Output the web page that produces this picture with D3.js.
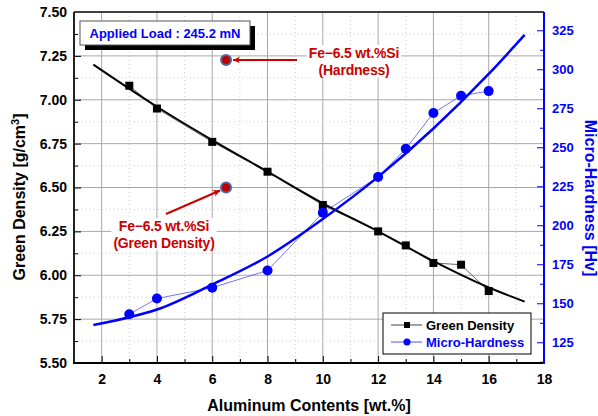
<!DOCTYPE html>
<html>
<head>
<meta charset="utf-8">
<script src="https://d3js.org/d3.v7.min.js"></script>
<style>
  body { margin: 0; background: #fff; }
  text { font-family: "Liberation Sans", Arial, sans-serif; font-weight: bold; }
</style>
</head>
<body>
<svg id="chart" width="598" height="416"></svg>
<script>
// measured data
var alContent = [3, 4, 6, 8, 10, 12, 13, 14, 15, 16];
var greenDensity = [7.08, 6.95, 6.76, 6.59, 6.40, 6.25, 6.17, 6.07, 6.06, 5.91];
var microHardness = [143, 153, 160, 171, 208, 231, 249, 272, 283, 286];

// fitted curves
var densityFitX = [1.7, 4, 6, 8, 10, 12, 14, 16, 17.3];
var densityFitY = [7.20, 6.96, 6.77, 6.59, 6.41, 6.25, 6.08, 5.93, 5.85];
var hardnessFitX = [1.7, 3, 4, 6, 8, 10, 12, 14, 16, 17.3];
var hardnessFitY = [136, 141, 146, 162, 180, 204, 231, 262, 297, 322];

// Fe-6.5 wt.%Si reference
var refAl = 6.5;
var refDensity = 6.50;
var refHardness = 306;

var xTicks = [2, 4, 6, 8, 10, 12, 14, 16, 18];
var yLeftTicks = [5.50, 5.75, 6.00, 6.25, 6.50, 6.75, 7.00, 7.25, 7.50];
var yRightTicks = [125, 150, 175, 200, 225, 250, 275, 300, 325];

var svg = d3.select('#chart');
var pLeft = 74, pRight = 544, pTop = 12, pBottom = 363;
var blue = '#0000ff', red = '#cc0000';

var x = d3.scaleLinear().domain([1, 18]).range([pLeft, pRight]);
var yL = d3.scaleLinear().domain([5.5, 7.5]).range([pBottom, pTop]);
var yR = d3.scaleLinear().domain([111.7, 336.7]).range([pBottom, pTop]);

// grid
var grid = svg.append('g');
d3.range(2, 18, 1).forEach(function (v) {
  var major = v % 2 === 0;
  grid.append('line')
    .attr('x1', x(v)).attr('x2', x(v)).attr('y1', pTop).attr('y2', pBottom)
    .attr('stroke', major ? '#a8a8a8' : '#cfcfcf')
    .attr('stroke-dasharray', major ? null : '1,3');
});
d3.range(5.625, 7.5, 0.125).forEach(function (v) {
  var major = Math.abs(v * 4 - Math.round(v * 4)) < 1e-6;
  grid.append('line')
    .attr('x1', pLeft).attr('x2', pRight).attr('y1', yL(v)).attr('y2', yL(v))
    .attr('stroke', major ? '#a8a8a8' : '#cfcfcf')
    .attr('stroke-dasharray', major ? null : '1,3');
});

// axes (ticks pointing inward)
var axB = svg.append('g').attr('transform', 'translate(0,' + pBottom + ')')
  .call(d3.axisBottom(x).tickValues(d3.range(2, 18, 1)).tickFormat(''));
axB.selectAll('.tick line').attr('y2', function (d) { return d % 2 === 0 ? -7 : -4; });
svg.append('g').attr('transform', 'translate(0,' + pBottom + ')')
  .call(d3.axisBottom(x).tickValues(xTicks).tickSize(0).tickPadding(11).tickFormat(d3.format('d')))
  .call(function (g) { g.select('.domain').remove(); })
  .selectAll('text').attr('font-size', 14).attr('fill', '#000');

var axL = svg.append('g').attr('transform', 'translate(' + pLeft + ',0)')
  .call(d3.axisLeft(yL).tickValues(d3.range(5.625, 7.5, 0.125)).tickFormat(''));
axL.selectAll('.tick line').attr('x2', function (d, i) { return i % 2 === 1 ? 7 : 4; });
svg.append('g').attr('transform', 'translate(' + pLeft + ',0)')
  .call(d3.axisLeft(yL).tickValues(yLeftTicks).tickSize(0).tickPadding(7).tickFormat(d3.format('.2f')))
  .call(function (g) { g.select('.domain').remove(); })
  .selectAll('text').attr('font-size', 14).attr('fill', '#000');

var axR = svg.append('g').attr('transform', 'translate(' + pRight + ',0)')
  .call(d3.axisRight(yR).tickValues(d3.range(112.5, 337, 12.5)).tickFormat(''));
axR.selectAll('.tick line').attr('stroke', blue).attr('x2', function (d) { return d % 25 === 0 ? -7 : -4; });
svg.append('g').attr('transform', 'translate(' + pRight + ',0)')
  .call(d3.axisRight(yR).tickValues(yRightTicks).tickSize(0).tickPadding(8).tickFormat(d3.format('d')))
  .call(function (g) { g.select('.domain').remove(); })
  .selectAll('text').attr('font-size', 13).attr('fill', blue);

axB.select('.domain').remove();
axL.select('.domain').remove();
axR.select('.domain').remove();
svg.append('line').attr('x1', pLeft).attr('x2', pRight).attr('y1', pTop).attr('y2', pTop)
  .attr('stroke', '#000').attr('stroke-width', 1.5);
svg.append('line').attr('x1', pLeft).attr('x2', pLeft).attr('y1', pTop).attr('y2', pBottom + 1)
  .attr('stroke', '#222').attr('stroke-width', 2);
svg.append('line').attr('x1', pLeft - 1).attr('x2', pRight).attr('y1', pBottom).attr('y2', pBottom)
  .attr('stroke', '#000').attr('stroke-width', 2);
svg.append('line').attr('x1', pRight).attr('x2', pRight).attr('y1', pTop).attr('y2', pBottom + 1)
  .attr('stroke', blue).attr('stroke-width', 2);

// curves
var densityFit = densityFitX.map(function (v, i) { return [v, densityFitY[i]]; });
var hardnessFit = hardnessFitX.map(function (v, i) { return [v, hardnessFitY[i]]; });
var densityPts = alContent.map(function (v, i) { return [v, greenDensity[i]]; });
var hardnessPts = alContent.map(function (v, i) { return [v, microHardness[i]]; });

var lineL = d3.line().x(function (d) { return x(d[0]); }).y(function (d) { return yL(d[1]); });
var lineR = d3.line().x(function (d) { return x(d[0]); }).y(function (d) { return yR(d[1]); });

svg.append('path').attr('d', lineL(densityPts)).attr('fill', 'none')
  .attr('stroke', '#444').attr('stroke-width', 0.8);
svg.append('path').attr('d', lineR(hardnessPts)).attr('fill', 'none')
  .attr('stroke', '#5050ff').attr('stroke-width', 0.8);
svg.append('path').attr('d', lineL.curve(d3.curveMonotoneX)(densityFit)).attr('fill', 'none')
  .attr('stroke', '#000').attr('stroke-width', 2);
svg.append('path').attr('d', lineR.curve(d3.curveMonotoneX)(hardnessFit)).attr('fill', 'none')
  .attr('stroke', blue).attr('stroke-width', 2.5);

svg.append('g').selectAll('rect').data(densityPts).enter().append('rect')
  .attr('x', function (d) { return x(d[0]) - 4; })
  .attr('y', function (d) { return yL(d[1]) - 4; })
  .attr('width', 8).attr('height', 8).attr('fill', '#000');
svg.append('g').selectAll('circle').data(hardnessPts).enter().append('circle')
  .attr('cx', function (d) { return x(d[0]); })
  .attr('cy', function (d) { return yR(d[1]); })
  .attr('r', 5).attr('fill', blue);

// applied load box
svg.append('rect').attr('x', 85).attr('y', 26).attr('width', 170).attr('height', 24).attr('fill', '#000');
svg.append('rect').attr('x', 80).attr('y', 21).attr('width', 170).attr('height', 24)
  .attr('fill', '#fff').attr('stroke', '#555').attr('stroke-width', 1);
svg.append('text').attr('x', 165).attr('y', 38).attr('text-anchor', 'middle')
  .attr('font-size', 13).attr('fill', blue).text('Applied Load : 245.2 mN');

// reference annotations
var defs = svg.append('defs');
defs.append('marker').attr('id', 'arrow').attr('viewBox', '0 0 10 10')
  .attr('refX', 10).attr('refY', 5).attr('markerWidth', 9).attr('markerHeight', 7)
  .attr('markerUnits', 'userSpaceOnUse').attr('orient', 'auto')
  .append('path').attr('d', 'M0,0 L10,5 L0,10 L3,5 Z').attr('fill', red);

function label(cx, y1, lines) {
  var g = svg.append('g');
  var bg = g.append('rect').attr('fill', '#fff');
  lines.forEach(function (t, i) {
    g.append('text').attr('x', cx).attr('y', y1 + i * 16.5).attr('text-anchor', 'middle')
      .attr('font-size', 14).attr('fill', red).attr('letter-spacing', -0.2).text(t);
  });
  var b = g.node().getBBox();
  bg.attr('x', b.x - 2).attr('y', b.y).attr('width', b.width + 4).attr('height', b.height);
}
label(354, 58, ['Fe\u22126.5 wt.%Si', '(Hardness)']);
label(164, 231, ['Fe\u22126.5 wt.%Si', '(Green Density)']);

var hx = x(refAl), hy = yR(refHardness), dy = yL(refDensity);
svg.append('line').attr('x1', 297).attr('y1', hy).attr('x2', hx + 7).attr('y2', hy)
  .attr('stroke', red).attr('stroke-width', 2).attr('marker-end', 'url(#arrow)');
svg.append('line').attr('x1', 166).attr('y1', 214).attr('x2', hx - 6).attr('y2', dy + 3)
  .attr('stroke', red).attr('stroke-width', 2).attr('marker-end', 'url(#arrow)');
svg.append('circle').attr('cx', hx).attr('cy', hy).attr('r', 5)
  .attr('fill', '#c00000').attr('stroke', '#4a6aa5').attr('stroke-width', 2);
svg.append('circle').attr('cx', hx).attr('cy', dy).attr('r', 5)
  .attr('fill', '#c00000').attr('stroke', '#4a6aa5').attr('stroke-width', 2);

// legend
var lg = svg.append('g');
lg.append('rect').attr('x', 383).attr('y', 313).attr('width', 148).attr('height', 41)
  .attr('fill', '#fff').attr('stroke', '#000').attr('stroke-width', 1);
lg.append('line').attr('x1', 391).attr('x2', 422).attr('y1', 325).attr('y2', 325).attr('stroke', '#444');
lg.append('rect').attr('x', 404).attr('y', 322).attr('width', 6).attr('height', 6).attr('fill', '#000');
lg.append('text').attr('x', 426).attr('y', 329.5).attr('font-size', 13).attr('fill', '#000').text('Green Density');
lg.append('line').attr('x1', 391).attr('x2', 422).attr('y1', 342).attr('y2', 342).attr('stroke', '#5050ff');
lg.append('circle').attr('cx', 407).attr('cy', 342).attr('r', 3.5).attr('fill', blue);
lg.append('text').attr('x', 426).attr('y', 346.5).attr('font-size', 13).attr('fill', blue).text('Micro-Hardness');

// axis titles
svg.append('text').attr('x', 309).attr('y', 411).attr('text-anchor', 'middle')
  .attr('font-size', 16).attr('fill', '#000').text('Aluminum Contents [wt.%]');
var lt = svg.append('text').attr('transform', 'translate(25,197) rotate(-90)')
  .attr('text-anchor', 'middle').attr('font-size', 16).attr('fill', '#000');
lt.append('tspan').text('Green Density [g/cm');
lt.append('tspan').attr('font-size', 11).attr('dy', -6).text('3');
lt.append('tspan').attr('dy', 6).text(']');
svg.append('text').attr('transform', 'translate(585,198) rotate(90)')
  .attr('text-anchor', 'middle').attr('font-size', 16).attr('fill', blue).text('Micro-Hardness [Hv]');
</script>
</body>
</html>
